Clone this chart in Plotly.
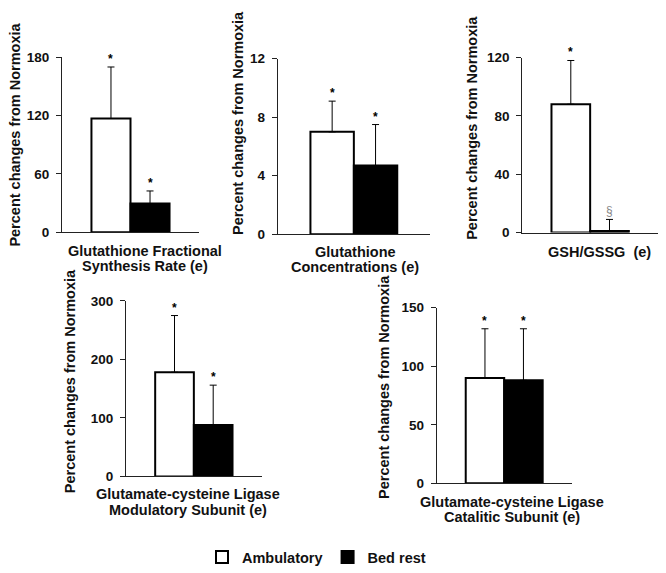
import plotly.graph_objects as go

# ---------------- data ----------------
panel_labels = [
    ["Glutathione Fractional", "Synthesis Rate (e)"],
    ["Glutathione", "Concentrations (e)"],
    ["GSH/GSSG  (e)"],
    ["Glutamate-cysteine Ligase", "Modulatory Subunit (e)"],
    ["Glutamate-cysteine Ligase", "Catalitic Subunit (e)"],
]
ambulatory = [117, 7.0, 88, 178, 90]
ambulatory_err = [53, 2.1, 30, 97, 42]
bed_rest = [29.5, 4.7, 1, 88, 88]
bed_rest_err = [13, 2.8, 8, 68, 44]
ambulatory_marks = ["*", "*", "*", "*", "*"]
bed_rest_marks = ["*", "*", "§", "*", "*"]
y_max = [180, 12, 120, 300, 150]
y_dtick = [60, 4, 40, 100, 50]
y_title = "Percent changes from Normoxia"
series_names = ["Ambulatory", "Bed rest"]

# ---------------- layout geometry (pixels) ----------------
W, H = 666, 573
geom = [
    dict(x=(62, 199), y=(52, 233), tx=15, ty=132, lx=144.5, ly=252),
    dict(x=(277.7, 430), y=(53.5, 235), tx=238, ty=120, lx=355, ly=253),
    dict(x=(522.3, 658), y=(52.3, 233.3), tx=472, ty=125, lx=599, ly=253),
    dict(x=(126, 261.7), y=(304, 485.5), tx=70, ty=387, lx=188, ly=504),
    dict(x=(436.7, 571.7), y=(311, 492.7), tx=384, ty=393, lx=512, ly=511.7),
]
FONT = "Liberation Sans, Arial, sans-serif"
BOLD = dict(family=FONT, size=14.5, color="#111", weight="bold")
BARGAP = 0.43
half = (1 - BARGAP) / 4.0

fig = go.Figure()
annotations = []
layout = {}

for i, g in enumerate(geom):
    k = "" if i == 0 else str(i + 1)
    xa, ya = "x" + k, "y" + k
    for j, (vals, errs, fill, name) in enumerate([
        (ambulatory, ambulatory_err, "white", series_names[0]),
        (bed_rest, bed_rest_err, "black", series_names[1]),
    ]):
        fig.add_trace(go.Bar(
            x=[0], y=[vals[i]], name=name, offsetgroup=str(j),
            marker=dict(color=fill, line=dict(color="black", width=2)),
            error_y=dict(type="data", symmetric=False, array=[errs[i]], arrayminus=[0],
                         color="black", thickness=1, width=3.5),
            xaxis=xa, yaxis=ya, showlegend=(i == 0), legendgroup=name,
        ))
    layout["xaxis" + k] = dict(
        domain=[g["x"][0] / W, g["x"][1] / W], anchor=ya, range=[-0.5, 0.5],
        showline=True, linecolor="#222", linewidth=1, showticklabels=False,
        ticks="", showgrid=False, zeroline=False, fixedrange=True,
    )
    layout["yaxis" + k] = dict(
        domain=[1 - g["y"][1] / H, 1 - g["y"][0] / H], anchor=xa,
        range=[0, y_max[i]], dtick=y_dtick[i], tick0=0,
        showline=True, linecolor="#222", linewidth=1, ticks="outside", ticklen=5,
        tickcolor="#222", showgrid=False, zeroline=False, ticklabelstandoff=4,
        tickfont=dict(family=FONT, size=13.5, color="#111", weight="bold"),
    )
    # y title
    annotations.append(dict(
        text=y_title, textangle=-90, xref="paper", yref="paper",
        x=g["tx"] / W, y=1 - g["ty"] / H, xanchor="center", yanchor="middle",
        showarrow=False, font=BOLD,
    ))
    # x label lines
    for li, line in enumerate(panel_labels[i]):
        annotations.append(dict(
            text=line, xref="paper", yref="paper",
            x=g["lx"] / W, y=1 - (g["ly"] + 16 * li) / H,
            xanchor="center", yanchor="middle", showarrow=False, font=BOLD,
        ))
    # significance marks
    for xpos, v, e, m in [(-half, ambulatory[i], ambulatory_err[i], ambulatory_marks[i]),
                          (half, bed_rest[i], bed_rest_err[i], bed_rest_marks[i])]:
        annotations.append(dict(
            text=m, xref=xa, yref=ya, x=xpos, y=v + e, xanchor="center",
            yanchor="bottom", showarrow=False, yshift=-1,
            font=dict(family=FONT, size=12,
                      color="#000" if m == "*" else "#888",
                      weight="bold" if m == "*" else "normal"),
        ))

fig.update_layout(
    width=W, height=H, margin=dict(l=0, r=0, t=0, b=0),
    paper_bgcolor="white", plot_bgcolor="white",
    barmode="group", bargap=BARGAP, bargroupgap=0,
    annotations=annotations,
    legend=dict(orientation="h", x=202 / W, xanchor="left", y=1 - 569 / H,
                yanchor="middle", font=BOLD, bgcolor="rgba(0,0,0,0)"),
    **layout,
)
fig.write_html(
    "out.html",
    config={"displayModeBar": False},
    post_script="document.body.style.margin='0';document.body.style.overflow='hidden';",
)
